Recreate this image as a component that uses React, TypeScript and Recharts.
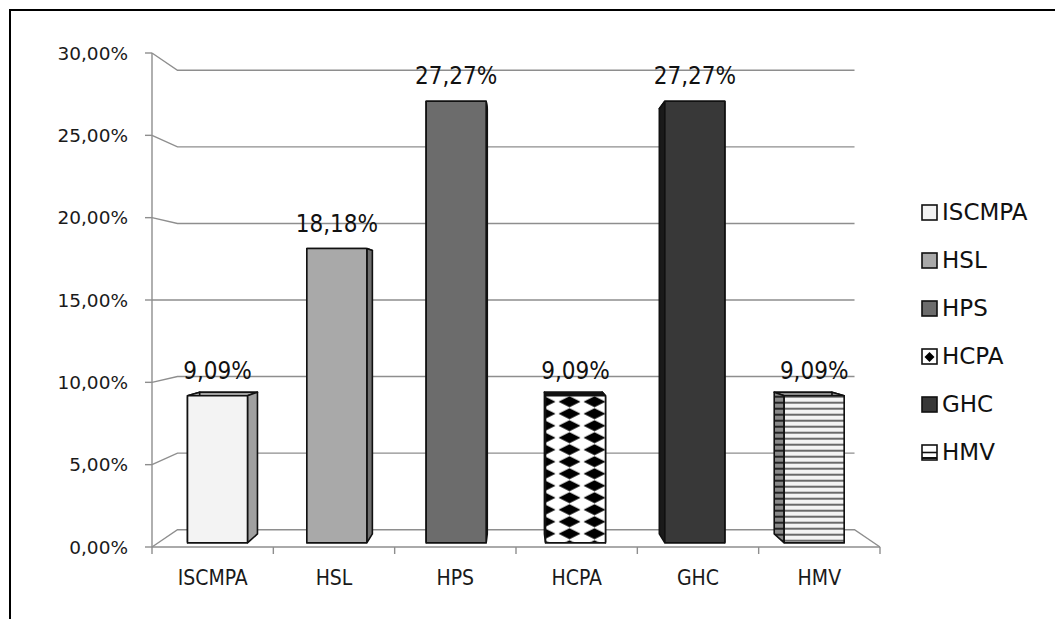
import React from "react"
import { BarChart, Bar, XAxis, YAxis, CartesianGrid, LabelList } from "recharts"

const categories = ["ISCMPA", "HSL", "HPS", "HCPA", "GHC", "HMV"]
const shares = [9.09, 18.18, 27.27, 9.09, 27.27, 9.09]
const yTicks = [0, 5, 10, 15, 20, 25, 30]

const data = categories.map((name, i) => ({ name, value: shares[i] }))

// look of each bar (front face / side faces)
const frontFills = ["#f3f3f3", "#a9a9a9", "#6c6c6c", "url(#hcpaFront)", "#383838", "url(#hmvFront)"]
const sideFills = ["#a0a0a0", "#6f6f6f", "#3e3e3e", "#111111", "#1a1a1a", "url(#hmvSide)"]

const W = 1055
const H = 619
// front plane of the 3d box (the axes)
const PLOT = { left: 152, top: 53, right: 880, bottom: 547 }
const CX = (PLOT.left + PLOT.right) / 2
const CY = (PLOT.top + PLOT.bottom) / 2
// perspective scales towards the centre
const S_WALL = 0.93
const S_BAR_FRONT = 0.9835
const S_BAR_BACK = 0.947

const FONT = "'DejaVu Sans', sans-serif"
const FONT_NARROW = "'DejaVu Sans Condensed', 'DejaVu Sans', sans-serif"
const GRID = "#8e8e8e"

const fmt = (v: number) => v.toFixed(2).replace(".", ",") + "%"
const proj = (px: number, py: number, s: number): [number, number] => [CX + (px - CX) * s, CY + (py - CY) * s]
const pts = (list: [number, number][]) => list.map((p) => p.join(",")).join(" ")

function WallLine(props: any) {
  const { y1, x1, x2 } = props
  const [bx1, by] = proj(x1, y1, S_WALL)
  const [bx2] = proj(x2, y1, S_WALL)
  let d = `M${x1},${y1} L${bx1},${by} L${bx2},${by}`
  if (Math.abs(y1 - PLOT.bottom) < 1) d += ` L${x2},${y1}`
  return <path key={props.key} d={d} fill="none" stroke={GRID} strokeWidth={1.4} />
}

function Bar3D(props: any) {
  const { x, y, width, height, index } = props
  const l = x
  const r = x + width
  const t = y
  const b = y + height
  const f = {
    tl: proj(l, t, S_BAR_FRONT),
    tr: proj(r, t, S_BAR_FRONT),
    bl: proj(l, b, S_BAR_FRONT),
    br: proj(r, b, S_BAR_FRONT),
  }
  const k = {
    tl: proj(l, t, S_BAR_BACK),
    tr: proj(r, t, S_BAR_BACK),
    bl: proj(l, b, S_BAR_BACK),
    br: proj(r, b, S_BAR_BACK),
  }
  const fl = f.tl[0]
  const ft = f.tl[1]
  const fw = f.tr[0] - f.tl[0]
  const fh = f.bl[1] - f.tl[1]
  const side = sideFills[index]
  const line = { stroke: "#111", strokeWidth: 1.6, strokeLinejoin: "round" as const }
  return (
    <g>
      <defs>
        <pattern id="hcpaFront" patternUnits="userSpaceOnUse" x={fl - 5.5} y={ft} width={25} height={12}>
          <rect width={25} height={12} fill="#fff" />
          <polygon points="1.5,6 12.5,0.5 23.5,6 12.5,11.5" fill="#000" />
        </pattern>
        <pattern id="hmvFront" patternUnits="userSpaceOnUse" x={fl} y={ft + 2} width={10} height={6}>
          <rect width={10} height={6} fill="#f4f4f4" />
          <rect y={4} width={10} height={2} fill="#6a6a6a" />
        </pattern>
        <pattern id="hmvSide" patternUnits="userSpaceOnUse" x={fl} y={ft + 2} width={10} height={6}>
          <rect width={10} height={6} fill="#8a8a8a" />
          <rect y={4} width={10} height={2} fill="#222" />
        </pattern>
      </defs>
      <polygon points={pts([f.tl, f.tr, k.tr, k.tl])} fill={side} {...line} />
      <polygon points={pts([f.tl, k.tl, k.bl, f.bl])} fill={side} {...line} />
      <polygon points={pts([f.tr, k.tr, k.br, f.br])} fill={side} {...line} />
      <rect x={fl} y={ft} width={fw} height={fh} fill={frontFills[index]} {...line} rx={1} />
    </g>
  )
}

function ValueLabel(props: any) {
  const { x, y, width, value } = props
  const [lx, ly] = proj(x + width / 2, y, S_BAR_FRONT)
  return (
    <text x={lx} y={ly - 17} textAnchor="middle" fontSize={24} fontFamily={FONT_NARROW} fill="#111">
      {fmt(value)}
    </text>
  )
}

const BAND = (PLOT.right - PLOT.left) / categories.length

function CategoryTick(props: any) {
  const { x, payload, index } = props
  const xl = x - BAND / 2
  return (
    <g>
      <line x1={xl} y1={PLOT.bottom} x2={xl} y2={PLOT.bottom + 7} stroke={GRID} strokeWidth={1.4} />
      {index === categories.length - 1 && (
        <line x1={x + BAND / 2} y1={PLOT.bottom} x2={x + BAND / 2} y2={PLOT.bottom + 7} stroke={GRID} strokeWidth={1.4} />
      )}
      <text x={x} y={PLOT.bottom + 38} textAnchor="middle" fontSize={21} fontFamily={FONT_NARROW} fill="#1a1a1a">
        {payload.value}
      </text>
    </g>
  )
}

function LegendIcon({ index }: { index: number }) {
  return (
    <svg width={17} height={17} style={{ display: "block" }}>
      {index === 3 ? (
        <>
          <rect x={1} y={1} width={15} height={15} fill="#fff" stroke="#111" strokeWidth={1.6} />
          <polygon points="3.5,9 8.5,4 13.5,9 8.5,14" fill="#000" />
        </>
      ) : index === 5 ? (
        <>
          <rect x={1} y={1} width={15} height={15} fill="#fff" stroke="#111" strokeWidth={1.6} />
          <line x1={1} y1={8.5} x2={16} y2={8.5} stroke="#111" strokeWidth={1.6} />
          <line x1={1} y1={14} x2={16} y2={14} stroke="#111" strokeWidth={2} />
        </>
      ) : (
        <rect x={1} y={1} width={15} height={15} fill={frontFills[index]} stroke="#111" strokeWidth={1.6} />
      )}
    </svg>
  )
}

export default function App() {
  return (
    <div style={{ position: "absolute", left: 0, top: 0, width: W, height: H, background: "#fff" }}>
      <div
        style={{
          position: "absolute",
          left: 9,
          top: 9,
          width: W,
          height: H,
          borderLeft: "2px solid #000",
          borderTop: "2px solid #000",
        }}
      />
      <div style={{ position: "absolute", left: 0, top: 0 }}>
        <BarChart width={W} height={H} data={data} margin={{ top: PLOT.top, right: W - PLOT.right, bottom: H - PLOT.bottom - 30, left: 12 }}>
          <CartesianGrid vertical={false} horizontal={(p: any) => <WallLine {...p} />} />
          <XAxis
            dataKey="name"
            height={30}
            axisLine={{ stroke: GRID, strokeWidth: 1.4 }}
            tickLine={false}
            tick={<CategoryTick />}
            interval={0}
          />
          <YAxis
            type="number"
            domain={[0, 30]}
            ticks={yTicks}
            width={140}
            tickFormatter={fmt}
            axisLine={{ stroke: GRID, strokeWidth: 1.4 }}
            tickLine={{ stroke: GRID, strokeWidth: 1.4 }}
            tickSize={7}
            tickMargin={17}
            tick={{ fontSize: 18.5, fontFamily: FONT, fill: "#1a1a1a" }}
          />
          <Bar dataKey="value" barSize={61} shape={<Bar3D />} isAnimationActive={false}>
            <LabelList dataKey="value" content={<ValueLabel />} />
          </Bar>
        </BarChart>
      </div>
      <div style={{ position: "absolute", left: 921, top: 188, fontFamily: FONT, fontSize: 23, color: "#111" }}>
        {categories.map((name, i) => (
          <div key={name} style={{ height: 48, display: "flex", alignItems: "center", gap: 4 }}>
            <LegendIcon index={i} />
            <span>{name}</span>
          </div>
        ))}
      </div>
    </div>
  )
}
